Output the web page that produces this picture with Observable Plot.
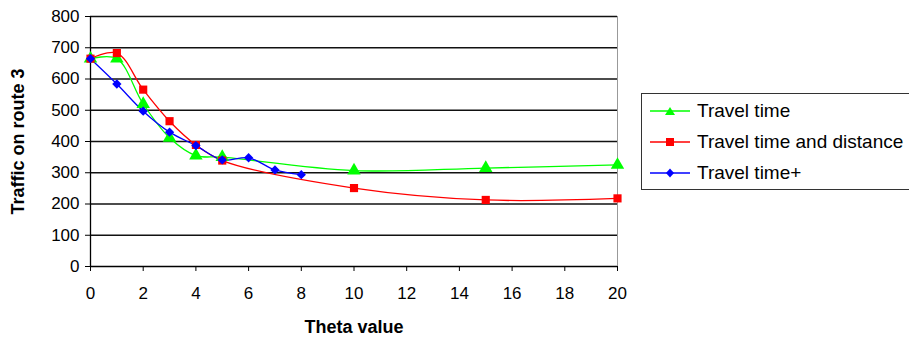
<!DOCTYPE html>
<html><head><meta charset="utf-8">
<script src="https://cdn.jsdelivr.net/npm/d3@7"></script>
<script src="https://cdn.jsdelivr.net/npm/@observablehq/plot@0.6"></script>
<style>
body{margin:0;background:#fff;font-family:"Liberation Sans",Arial,sans-serif;}
#wrap{position:relative;width:909px;height:345px;overflow:hidden;}
#legend{position:absolute;left:641px;top:93px;width:272px;height:97px;border:1px solid #333;box-sizing:border-box;background:#fff;}
.item{position:absolute;left:8px;height:20px;display:flex;align-items:center;font-size:19px;color:#000;white-space:nowrap;}
.item svg{margin-right:5px;}
</style>
</head><body>
<div id="wrap"><div id="chart"></div><div id="legend"></div></div>
<script>
const thetaTT = [0,1,2,3,4,5,10,15,20];
const travelTime = [665,665,520,412,355,350,307,315,325];
const thetaTD = [0,1,2,3,4,5,10,15,20];
const travelTimeDistance = [665,683,566,465,389,339,251,213,218];
const thetaTP = [0,1,2,3,4,5,6,7,8];
const travelTimePlus = [665,584,497,430,387,341,348,309,294];
const seriesNames = ["Travel time","Travel time and distance","Travel time+"];
const seriesColors = ["#00ff00","#ff0000","#0000ff"];
const seriesSymbols = ["triangle","square","diamond2"];
const xTicks = d3.range(0,21,2);
const yTicks = d3.range(0,801,100);

const mk = (xs, ys) => xs.map((x,i)=>({x, y: ys[i]}));
const sets = [mk(thetaTT,travelTime), mk(thetaTD,travelTimeDistance), mk(thetaTP,travelTimePlus)];

const marks = [
  Plot.ruleY(yTicks.filter(d=>d>0), {stroke:"#111", strokeWidth:1.4}),
  Plot.ruleX([20], {y1:0, y2:800, stroke:"#999", strokeWidth:1}),
  Plot.axisY({ticks:yTicks, tickSize:5, tickPadding:6, label:null, fontSize:17, tickFormat:d=>d}),
  Plot.axisX({ticks:xTicks, tickSize:5, tickPadding:15, label:null, fontSize:17, tickFormat:d=>d}),
  Plot.ruleX([0], {y1:0, y2:800, stroke:"#000", strokeWidth:1.3}),
  Plot.ruleY([0], {x1:0, x2:20, stroke:"#000", strokeWidth:1.3})
];
sets.forEach((data,i)=>{
  marks.push(Plot.line(data, {x:"x", y:"y", stroke:seriesColors[i], strokeWidth:1.3, curve:"catmull-rom"}));
});
sets.forEach((data,i)=>{
  marks.push(Plot.dot(data, {x:"x", y:"y", fill:seriesColors[i], stroke:"none", symbol:()=>seriesSymbols[i], r: i===2?4.2:(i===0?5:4.6)}));
});
marks.push(Plot.text(["Theta value"], {frameAnchor:"bottom", dy:66, fontSize:18, fontWeight:"bold", text:d=>d}));
marks.push(Plot.text(["Traffic on route 3"], {frameAnchor:"left", dx:-72, rotate:-90, textAnchor:"middle", fontSize:18, fontWeight:"bold", text:d=>d}));

const chart = Plot.plot({
  width:909, height:345,
  marginLeft:90, marginRight:292, marginTop:16, marginBottom:79,
  x:{domain:[0,20]}, y:{domain:[0,800]},
  style:{fontFamily:"'Liberation Sans', Arial, sans-serif", fontSize:"17px", color:"#000", background:"#fff", overflow:"visible"},
  marks
});
document.getElementById("chart").appendChild(chart);

const legend = document.getElementById("legend");
const symPaths = {
  triangle: '<path d="M20,5 L25,13 L15,13 Z"/>',
  square: '<rect x="16" y="5" width="8" height="8"/>',
  diamond2: '<path d="M20,4.5 L24,9 L20,13.5 L16,9 Z"/>'
};
seriesNames.forEach((name,i)=>{
  const div = document.createElement("div");
  div.className = "item";
  div.style.top = (7 + i*31) + "px";
  div.innerHTML = `<svg width="42" height="18"><line x1="0" x2="40" y1="9" y2="9" stroke="${seriesColors[i]}" stroke-width="1.3"/><g fill="${seriesColors[i]}">${symPaths[seriesSymbols[i]]}</g></svg><span>${name}</span>`;
  legend.appendChild(div);
});
</script>
</body></html>
